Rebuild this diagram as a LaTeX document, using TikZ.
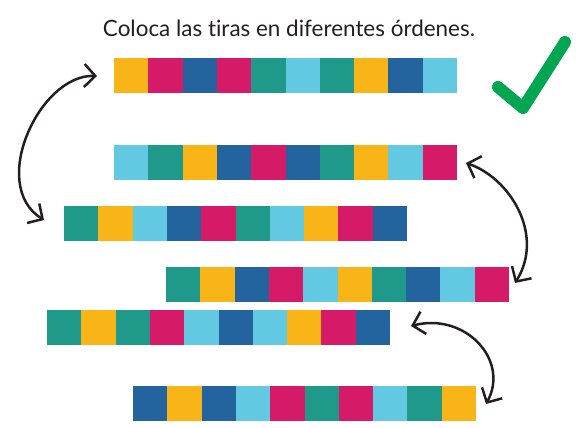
\documentclass[tikz,border=0pt]{standalone}
\usepackage{fontspec}
\setmainfont{Lato}
\newfontfamily\handfont{Lato}[Ligatures={NoCommon,NoRare}]
\usetikzlibrary{arrows.meta}
\definecolor{Y}{HTML}{F9B418}
\definecolor{M}{HTML}{D51A68}
\definecolor{B}{HTML}{23649E}
\definecolor{T}{HTML}{1F998A}
\definecolor{C}{HTML}{63C9E2}
\definecolor{ink}{HTML}{231F20}
\definecolor{grn}{HTML}{00A651}
\newcommand\colorstrip[4]{%
  \node[anchor=north west, inner sep=0pt, minimum width=343pt, minimum height=34.7pt] (#1) at (#2,#3) {};
  \foreach \c [count=\i from 0] in {#4} {
    \fill[\c] ({#2+\i*34.3},#3) rectangle ++(34.4,34.7);
  }%
}
\tikzset{
  barb/.tip={Straight Barb[length=11pt,width=23pt]},
  swaparrow/.style={draw=ink, line width=2.5pt, barb-barb},
  tick/.style={draw=grn, line width=12pt, line cap=round, line join=round}
}
\begin{document}
\begin{tikzpicture}[x=1pt,y=-1pt]
\useasboundingbox (0,0) rectangle (581,428);
\node[anchor=base, inner sep=0pt, text=ink] (title) at (289,37)
  {\resizebox{372pt}{!}{\handfont Coloca las tiras en diferentes órdenes.}};
\colorstrip{s1}{114}{58}{Y,M,B,M,T,C,T,Y,B,C}
\colorstrip{s2}{114}{145}{C,T,Y,B,M,B,T,Y,C,M}
\colorstrip{s3}{64}{206}{T,Y,C,B,M,T,C,Y,M,B}
\colorstrip{s4}{166}{267}{T,Y,B,M,C,Y,T,B,C,M}
\colorstrip{s5}{47}{310}{T,Y,T,M,C,B,C,Y,M,B}
\colorstrip{s6}{133}{386}{B,Y,B,C,M,T,M,C,T,Y}
% arrows
\coordinate (a1s) at (97,76);
\coordinate (a1e) at (44,220);
\draw[swaparrow] (a1s) .. controls (40,74) and (-12,185) .. (a1e);
\coordinate (a2s) at (466,163);
\coordinate (a2e) at (515,283);
\draw[swaparrow] (a2s) .. controls (510,178) and (545,235) .. (a2e);
\coordinate (a3s) at (411,326);
\coordinate (a3e) at (486,404);
\draw[swaparrow] (a3s) .. controls (465,312) and (510,360) .. (a3e);
% check mark
\coordinate (k1) at (498,87);
\coordinate (k2) at (523,108);
\coordinate (k3) at (565,42);
\draw[tick] (k1) -- (k2) -- (k3);
\end{tikzpicture}
\end{document}
